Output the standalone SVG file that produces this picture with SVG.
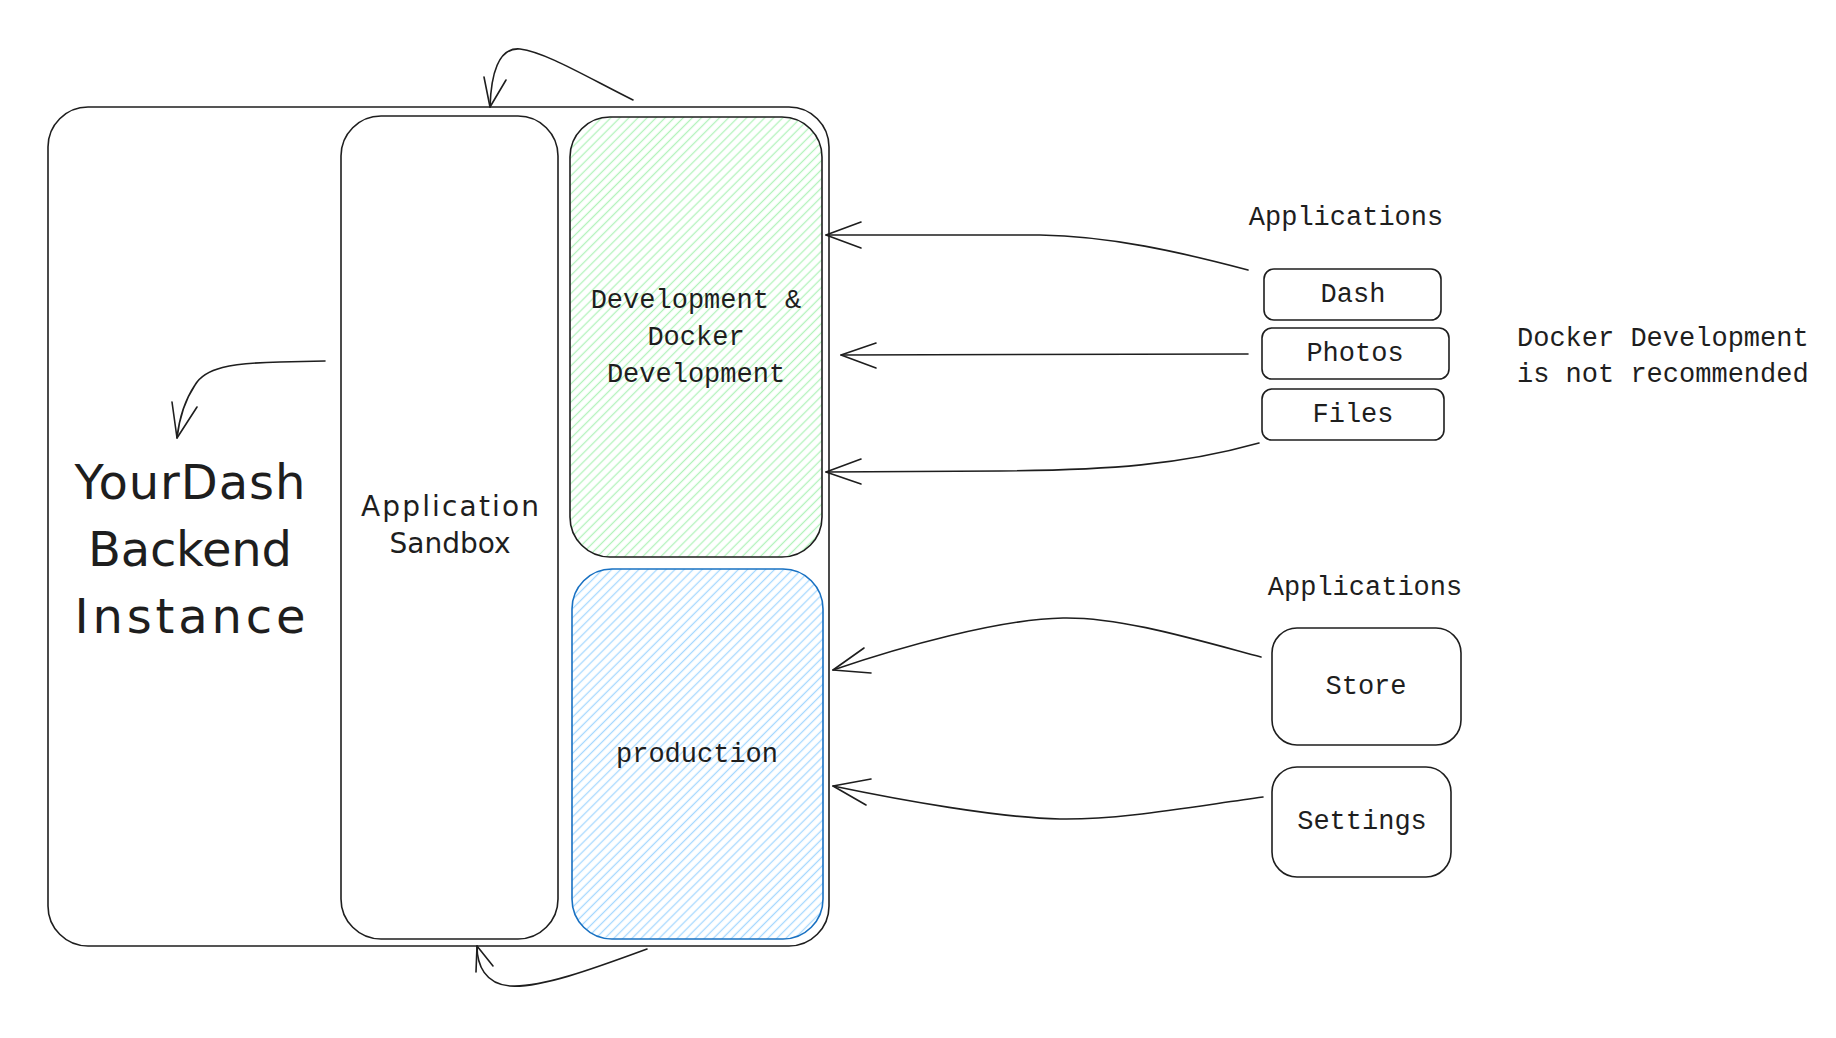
<svg xmlns="http://www.w3.org/2000/svg" width="1836" height="1038" viewBox="0 0 1836 1038">
<style>
.box{fill:none;stroke:#1e1e1e;stroke-width:1.6}
.blue{stroke:#1971c2}
.ln{fill:none;stroke:#1e1e1e;stroke-width:1.6;stroke-linecap:round;stroke-linejoin:round}
.mono{font-family:"Liberation Mono","DejaVu Sans Mono",monospace;font-size:27px;fill:#1e1e1e}
.hand{font-family:"DejaVu Sans","Noto Sans",sans-serif;fill:#1e1e1e}
</style>
<defs>
<pattern id="hG" width="6.4" height="6.4" patternUnits="userSpaceOnUse" patternTransform="rotate(45)">
<line x1="3.2" y1="0" x2="3.2" y2="6.4" stroke="#b2f2bb" stroke-width="1.3"/>
</pattern>
<pattern id="hB" width="6.4" height="6.4" patternUnits="userSpaceOnUse" patternTransform="rotate(45)">
<line x1="3.2" y1="0" x2="3.2" y2="6.4" stroke="#a5d8ff" stroke-width="1.3"/>
</pattern>
</defs>
<rect width="1836" height="1038" fill="#ffffff"/>

<g id="backend">
<rect class="box" x="48" y="107" width="781" height="839" rx="40"/>
<text class="hand" font-size="48" text-anchor="middle" x="190" y="499" textLength="231">YourDash</text>
<text class="hand" font-size="48" text-anchor="middle" x="190" y="566" textLength="204">Backend</text>
<text class="hand" font-size="48" text-anchor="middle" x="190" y="633" textLength="231">Instance</text>
</g>

<g id="sandbox">
<rect class="box" x="341" y="116" width="217" height="823" rx="40"/>
<text class="hand" font-size="28" text-anchor="middle" x="450" y="516" textLength="178">Application</text>
<text class="hand" font-size="28" text-anchor="middle" x="450" y="553">Sandbox</text>
</g>

<g id="development">
<rect x="570" y="117" width="252" height="440" rx="40" fill="url(#hG)"/>
<rect class="box" x="570" y="117" width="252" height="440" rx="40"/>
<text class="mono" text-anchor="middle" x="696" y="308">Development &amp;</text>
<text class="mono" text-anchor="middle" x="696" y="345">Docker</text>
<text class="mono" text-anchor="middle" x="696" y="382">Development</text>
</g>

<g id="production">
<rect x="572" y="569" width="251" height="370" rx="40" fill="url(#hB)"/>
<rect class="box blue" x="572" y="569" width="251" height="370" rx="40"/>
<text class="mono" text-anchor="middle" x="697" y="762">production</text>
</g>

<g id="apps-dev-label">
<text class="mono" text-anchor="middle" x="1346" y="225">Applications</text>
</g>
<g id="dash">
<rect class="box" x="1264" y="269" width="177" height="51" rx="10"/>
<text class="mono" text-anchor="middle" x="1353" y="302">Dash</text>
</g>
<g id="photos">
<rect class="box" x="1262" y="328" width="187" height="51" rx="10"/>
<text class="mono" text-anchor="middle" x="1355" y="361">Photos</text>
</g>
<g id="files">
<rect class="box" x="1262" y="389" width="182" height="51" rx="10"/>
<text class="mono" text-anchor="middle" x="1353" y="422">Files</text>
</g>
<g id="docker-note">
<text class="mono" x="1517" y="346">Docker Development</text>
<text class="mono" x="1517" y="382">is not recommended</text>
</g>

<g id="apps-prod-label">
<text class="mono" text-anchor="middle" x="1365" y="595">Applications</text>
</g>
<g id="store">
<rect class="box" x="1272" y="628" width="189" height="117" rx="25"/>
<text class="mono" text-anchor="middle" x="1366" y="694">Store</text>
</g>
<g id="settings">
<rect class="box" x="1272" y="767" width="179" height="110" rx="25"/>
<text class="mono" text-anchor="middle" x="1362" y="829">Settings</text>
</g>

<g id="connectors">
<path class="ln" d="M1248,270 C1180,252 1110,236 1040,235 L826,235"/>
<path class="ln" d="M861,222 L826,235 L861,248"/>
<path class="ln" d="M1248,354 L841,355"/>
<path class="ln" d="M876,343 L841,355 L876,368"/>
<path class="ln" d="M1259,443 C1180,465 1110,470 1000,471 L826,472"/>
<path class="ln" d="M861,459 L826,472 L861,484"/>
<path class="ln" d="M1261,657 C1190,638 1120,617 1063,618 C1000,619 900,647 833,670"/>
<path class="ln" d="M864,648 L833,670 L871,673"/>
<path class="ln" d="M1263,797 C1190,807 1120,820 1060,819 C1000,818 900,800 833,786"/>
<path class="ln" d="M871,779 L833,786 L866,805"/>
<path class="ln" d="M633,100 C585,76 545,52 520,49 C498,47 491,75 490,107"/>
<path class="ln" d="M484,77 L490,107 L506,80"/>
<path class="ln" d="M325,361 L280,362 C230,363 205,368 195,385 C185,400 179,420 177,438"/>
<path class="ln" d="M172,402 L177,438 L197,407"/>
<path class="ln" d="M647,949 C590,970 540,988 510,986 C485,984 477,965 477,946"/>
<path class="ln" d="M476,972 L477,946 L493,966"/>
</g>
</svg>
